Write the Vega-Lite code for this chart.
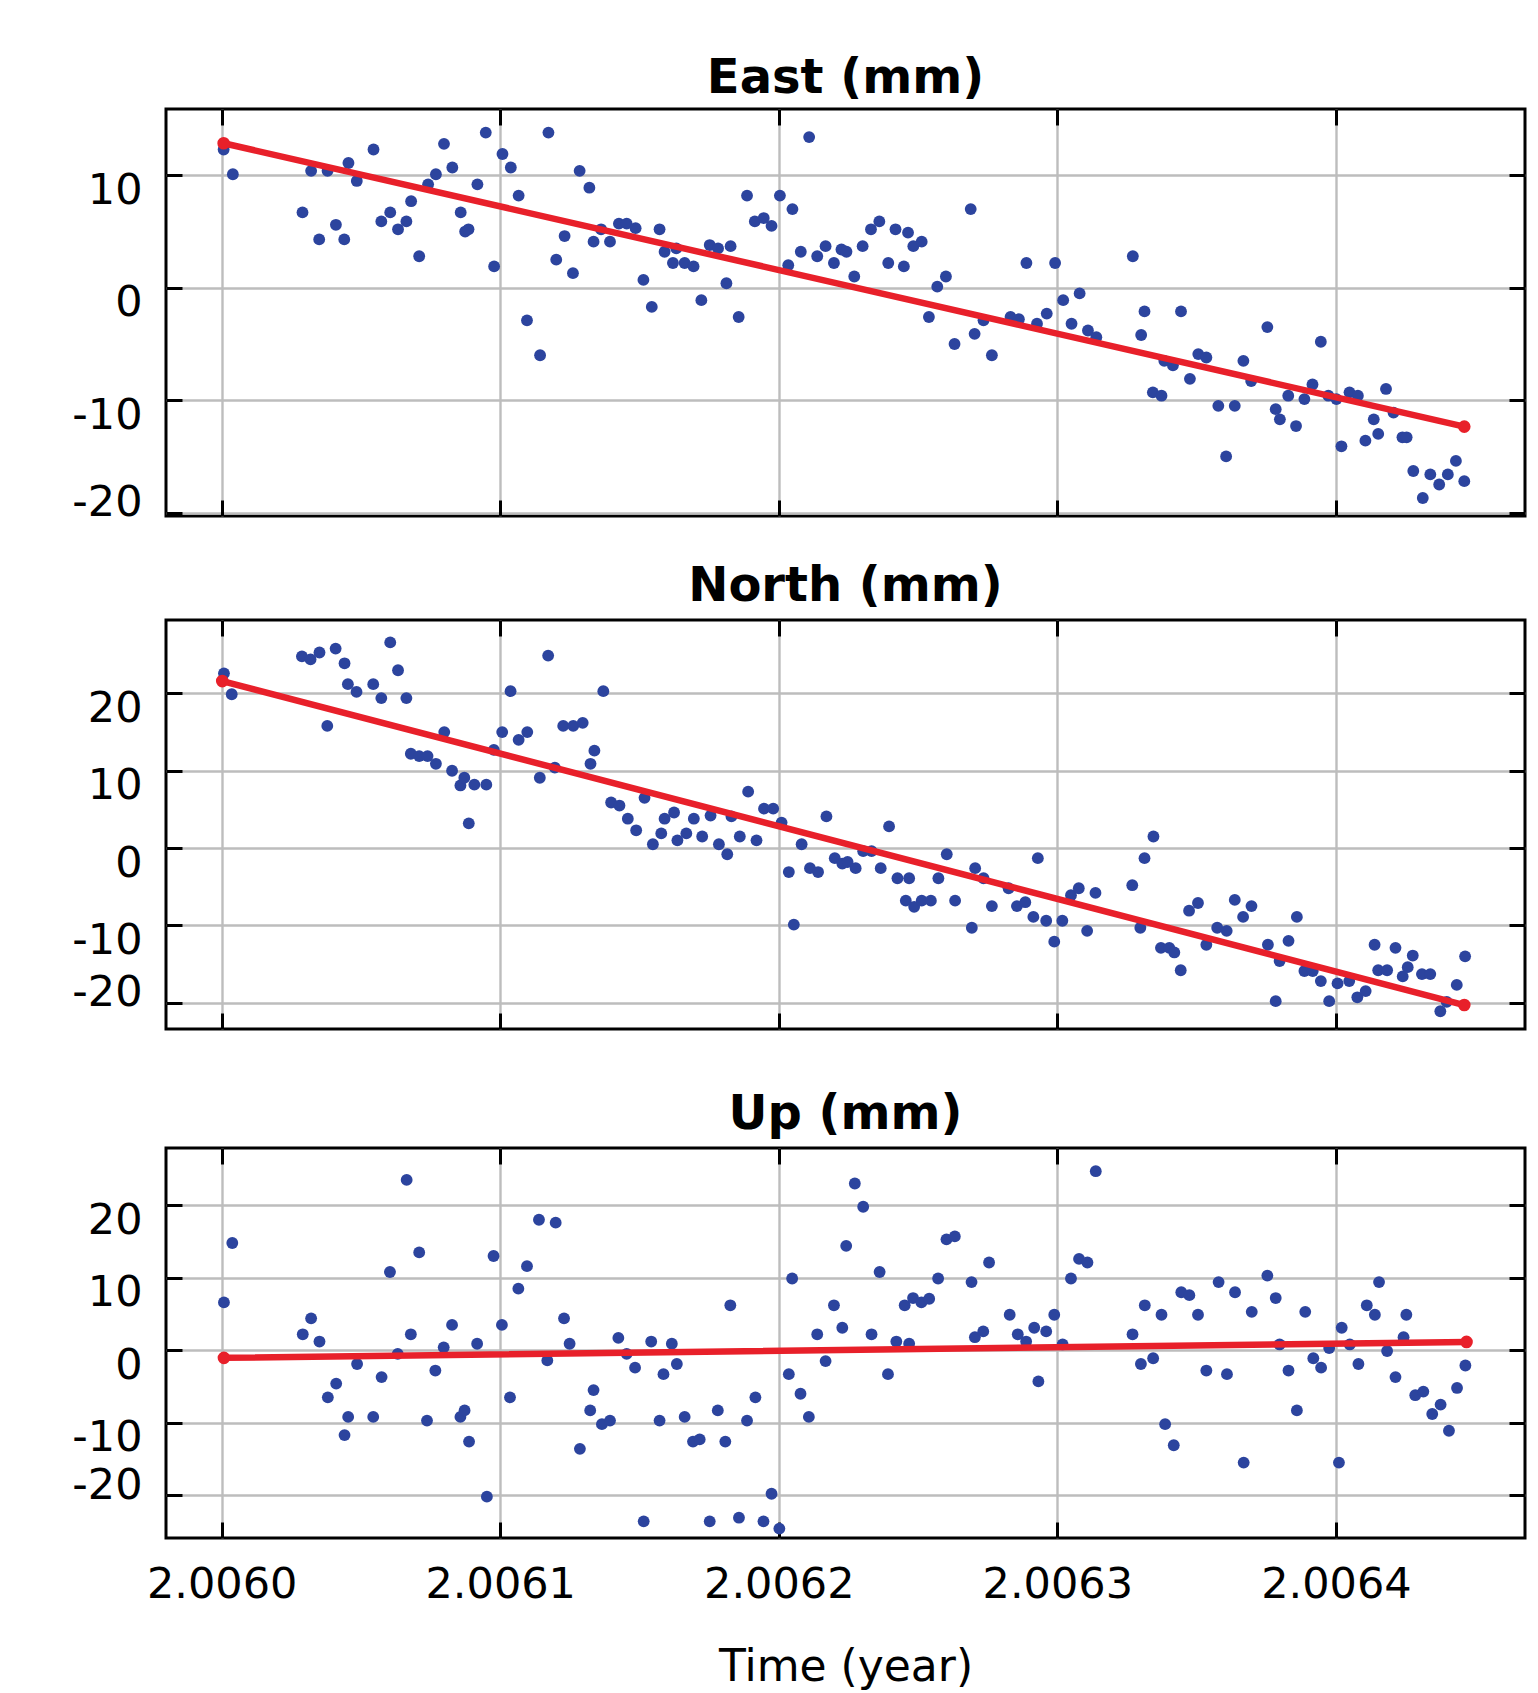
{
  "$schema": "https://vega.github.io/schema/vega-lite/v6.json",
  "background": "white",
  "padding": {"left": 70, "top": 53, "right": 6, "bottom": 4},
  "config": {
    "view": {"stroke": "black", "strokeWidth": 3},
    "font": "DejaVu Sans",
    "axis": {"labelFont": "DejaVu Sans", "labelFontSize": 43, "labelColor": "black", "gridColor": "#bdbdbd", "gridWidth": 2.4, "tickColor": "black", "tickWidth": 3, "tickSize": -16, "domain": false, "titleFont": "DejaVu Sans", "titleFontWeight": "normal", "titleFontSize": 44, "titleColor": "black"},
    "title": {"font": "DejaVu Sans", "fontSize": 48, "fontWeight": "bold", "color": "black", "offset": 8},
    "concat": {"spacing": 34}
  },
  "datasets": {
    "east": [
      {"t":2.0060007,"v":12.3},{"t":2.0060040,"v":10.1},{"t":2.0060290,"v":6.7},{"t":2.0060321,"v":10.4},{"t":2.0060350,"v":4.3},{"t":2.0060380,"v":10.4},{"t":2.0060410,"v":5.6},{"t":2.0060440,"v":4.3},{"t":2.0060455,"v":11.1},{"t":2.0060485,"v":9.5},{"t":2.0060545,"v":12.3},{"t":2.0060573,"v":5.9},{"t":2.0060605,"v":6.7},{"t":2.0060633,"v":5.2},{"t":2.0060663,"v":5.9},{"t":2.0060680,"v":7.7},{"t":2.0060709,"v":2.8},{"t":2.0060741,"v":9.2},{"t":2.0060769,"v":10.1},{"t":2.0060798,"v":12.8},{"t":2.0060828,"v":10.7},{"t":2.0060858,"v":6.7},{"t":2.0060874,"v":5.0},{"t":2.0060886,"v":5.2},{"t":2.0060918,"v":9.2},{"t":2.0060948,"v":13.8},{"t":2.0060978,"v":1.9},{"t":2.0061008,"v":11.9},{"t":2.0061038,"v":10.7},{"t":2.0061066,"v":8.2},{"t":2.0061096,"v":-2.9},{"t":2.0061143,"v":-6.0},{"t":2.0061173,"v":13.8},{"t":2.0061201,"v":2.5},{"t":2.0061231,"v":4.6},{"t":2.0061261,"v":1.3},{"t":2.0061285,"v":10.4},
      {"t":2.0061320,"v":8.9},{"t":2.0061335,"v":4.1},{"t":2.0061362,"v":5.2},{"t":2.0061394,"v":4.1},{"t":2.0061426,"v":5.7},{"t":2.0061454,"v":5.7},{"t":2.0061486,"v":5.3},{"t":2.0061514,"v":0.7},{"t":2.0061544,"v":-1.7},{"t":2.0061572,"v":5.2},{"t":2.0061590,"v":3.2},{"t":2.0061620,"v":2.2},{"t":2.0061632,"v":3.5},{"t":2.0061662,"v":2.2},{"t":2.0061694,"v":1.9},{"t":2.0061722,"v":-1.1},{"t":2.0061752,"v":3.8},{"t":2.0061782,"v":3.5},{"t":2.0061812,"v":0.4},{"t":2.0061827,"v":3.7},{"t":2.0061856,"v":-2.6},{"t":2.0061886,"v":8.2},{"t":2.0061914,"v":5.9},{"t":2.0061946,"v":6.2},{"t":2.0061974,"v":5.5},{"t":2.0062004,"v":8.2},{"t":2.0062034,"v":2.0},{"t":2.0062049,"v":7.0},{"t":2.0062079,"v":3.2},{"t":2.0062109,"v":13.4},{"t":2.0062138,"v":2.8},{"t":2.0062168,"v":3.7},{"t":2.0062198,"v":2.2},{"t":2.0062225,"v":3.4},{"t":2.0062243,"v":3.2},{"t":2.0062271,"v":1.0},{"t":2.0062301,"v":3.7},{"t":2.0062331,"v":5.2},{"t":2.0062361,"v":5.9},{"t":2.0062393,"v":2.2},{"t":2.0062419,"v":5.2},{"t":2.0062449,"v":1.9},{"t":2.0062464,"v":4.9},{"t":2.0062483,"v":3.7},{"t":2.0062513,"v":4.1},{"t":2.0062539,"v":-2.6},{"t":2.0062569,"v":0.1},{"t":2.0062600,"v":1.0},{"t":2.0062631,"v":-5.0},{"t":2.0062689,"v":7.0},{"t":2.0062703,"v":-4.1},{"t":2.0062735,"v":-2.9},{"t":2.0062765,"v":-6.0},
      {"t":2.0062832,"v":-2.6},{"t":2.0062862,"v":-2.8},{"t":2.0062889,"v":2.2},{"t":2.0062927,"v":-3.2},{"t":2.0062962,"v":-2.3},{"t":2.0062992,"v":2.2},{"t":2.0063021,"v":-1.1},{"t":2.0063051,"v":-3.2},{"t":2.0063080,"v":-0.5},{"t":2.0063110,"v":-3.8},{"t":2.0063140,"v":-4.4},{"t":2.0063271,"v":2.8},{"t":2.0063301,"v":-4.2},{"t":2.0063313,"v":-2.1},{"t":2.0063343,"v":-9.3},{"t":2.0063374,"v":-9.6},{"t":2.0063384,"v":-6.5},{"t":2.0063415,"v":-6.9},{"t":2.0063444,"v":-2.1},{"t":2.0063476,"v":-8.1},{"t":2.0063506,"v":-5.9},{"t":2.0063535,"v":-6.2},{"t":2.0063578,"v":-10.5},{"t":2.0063606,"v":-15.0},{"t":2.0063637,"v":-10.5},{"t":2.0063668,"v":-6.5},{"t":2.0063696,"v":-8.3},{"t":2.0063754,"v":-3.5},{"t":2.0063784,"v":-10.8},{"t":2.0063799,"v":-11.7},{"t":2.0063829,"v":-9.6},{"t":2.0063857,"v":-12.3},{"t":2.0063887,"v":-9.9},{"t":2.0063916,"v":-8.6},{"t":2.0063946,"v":-4.8},{"t":2.0063973,"v":-9.6},{"t":2.0064002,"v":-9.9},{"t":2.0064020,"v":-14.1},{"t":2.0064049,"v":-9.3},{"t":2.0064079,"v":-9.6},{"t":2.0064106,"v":-13.6},{"t":2.0064136,"v":-11.7},{"t":2.0064152,"v":-13.0},{"t":2.0064180,"v":-9.0},{"t":2.0064207,"v":-11.1},{"t":2.0064239,"v":-13.3},{"t":2.0064254,"v":-13.3},{"t":2.0064278,"v":-16.3},{"t":2.0064312,"v":-18.7},{"t":2.0064339,"v":-16.6},{"t":2.0064371,"v":-17.5},{"t":2.0064402,"v":-16.6},{"t":2.0064431,"v":-15.4},{"t":2.0064461,"v":-17.2}
    ],
    "east_fit": [{"t":2.0060007,"v":12.85},{"t":2.0064461,"v":-12.35}],
    "north": [
      {"t":2.0060008,"v":22.6},{"t":2.0060036,"v":19.9},{"t":2.0060288,"v":24.8},{"t":2.0060319,"v":24.4},{"t":2.0060351,"v":25.3},{"t":2.0060379,"v":15.8},{"t":2.0060409,"v":25.8},{"t":2.0060441,"v":23.9},{"t":2.0060453,"v":21.2},{"t":2.0060484,"v":20.2},{"t":2.0060544,"v":21.2},{"t":2.0060573,"v":19.4},{"t":2.0060605,"v":26.6},{"t":2.0060633,"v":23.0},{"t":2.0060663,"v":19.4},{"t":2.0060679,"v":12.2},{"t":2.0060709,"v":11.9},{"t":2.0060739,"v":11.9},{"t":2.0060769,"v":10.9},{"t":2.0060799,"v":15.0},{"t":2.0060827,"v":10.0},{"t":2.0060857,"v":8.1},{"t":2.0060871,"v":9.1},{"t":2.0060887,"v":3.2},{"t":2.0060907,"v":8.2},{"t":2.0060950,"v":8.2},{"t":2.0060977,"v":12.7},{"t":2.0061007,"v":15.0},{"t":2.0061037,"v":20.3},{"t":2.0061066,"v":14.0},{"t":2.0061097,"v":15.0},{"t":2.0061142,"v":9.1},{"t":2.0061172,"v":24.9},{"t":2.0061196,"v":10.4},{"t":2.0061226,"v":15.8},{"t":2.0061262,"v":15.8},{"t":2.0061296,"v":16.2},{"t":2.0061324,"v":10.9},{"t":2.0061338,"v":12.6},{"t":2.0061370,"v":20.3},{"t":2.0061398,"v":5.9},{"t":2.0061428,"v":5.5},{"t":2.0061458,"v":3.8},{"t":2.0061488,"v":2.3},{"t":2.0061518,"v":6.5},{"t":2.0061548,"v":0.5},{"t":2.0061578,"v":1.9},{"t":2.0061590,"v":3.8},{"t":2.0061624,"v":4.6},{"t":2.0061636,"v":1.0},{"t":2.0061668,"v":1.9},{"t":2.0061695,"v":3.8},{"t":2.0061725,"v":1.5},{"t":2.0061755,"v":4.2},{"t":2.0061785,"v":0.5},{"t":2.0061815,"v":-0.8},{"t":2.0061830,"v":4.1},{"t":2.0061860,"v":1.5},{"t":2.0061890,"v":7.3},{"t":2.0061920,"v":1.0},{"t":2.0061947,"v":5.1},{"t":2.0061980,"v":5.1},{"t":2.0062010,"v":3.3},{"t":2.0062036,"v":-3.1},{"t":2.0062054,"v":-9.9},{"t":2.0062082,"v":0.5},{"t":2.0062112,"v":-2.6},{"t":2.0062141,"v":-3.1},{"t":2.0062171,"v":4.1},{"t":2.0062201,"v":-1.3},{"t":2.0062228,"v":-2.0},{"t":2.0062247,"v":-1.8},{"t":2.0062276,"v":-2.6},{"t":2.0062303,"v":-0.4},{"t":2.0062333,"v":-0.4},{"t":2.0062366,"v":-2.6},{"t":2.0062396,"v":2.8},{"t":2.0062426,"v":-3.9},{"t":2.0062456,"v":-6.8},{"t":2.0062468,"v":-3.9},{"t":2.0062486,"v":-7.6},{"t":2.0062513,"v":-6.8},{"t":2.0062546,"v":-6.8},{"t":2.0062573,"v":-3.9},{"t":2.0062603,"v":-0.8},{"t":2.0062633,"v":-6.8},{"t":2.0062693,"v":-10.3},{"t":2.0062705,"v":-2.6},{"t":2.0062735,"v":-3.9},{"t":2.0062765,"v":-7.5},{"t":2.0062825,"v":-5.2},{"t":2.0062855,"v":-7.5},{"t":2.0062885,"v":-7.0},{"t":2.0062914,"v":-8.9},{"t":2.0062930,"v":-1.3},{"t":2.0062960,"v":-9.4},{"t":2.0062989,"v":-12.1},{"t":2.0063018,"v":-9.4},{"t":2.0063049,"v":-6.1},{"t":2.0063077,"v":-5.2},{"t":2.0063107,"v":-10.7},{"t":2.0063137,"v":-5.8},{"t":2.0063269,"v":-4.8},{"t":2.0063298,"v":-10.3},{"t":2.0063313,"v":-1.3},{"t":2.0063345,"v":1.5},{"t":2.0063372,"v":-12.9},{"t":2.0063402,"v":-12.9},{"t":2.0063420,"v":-13.5},{"t":2.0063443,"v":-15.8},{"t":2.0063473,"v":-8.1},{"t":2.0063505,"v":-7.1},{"t":2.0063535,"v":-12.5},{"t":2.0063574,"v":-10.3},{"t":2.0063608,"v":-10.7},{"t":2.0063637,"v":-6.7},{"t":2.0063667,"v":-8.9},{"t":2.0063697,"v":-7.5},{"t":2.0063756,"v":-12.5},{"t":2.0063784,"v":-19.8},{"t":2.0063798,"v":-14.6},{"t":2.0063830,"v":-12.0},{"t":2.0063860,"v":-8.9},{"t":2.0063887,"v":-15.9},{"t":2.0063917,"v":-15.9},{"t":2.0063946,"v":-17.2},{"t":2.0063976,"v":-19.8},{"t":2.0064006,"v":-17.5},{"t":2.0064048,"v":-17.2},{"t":2.0064077,"v":-19.3},{"t":2.0064107,"v":-18.5},{"t":2.0064139,"v":-12.5},{"t":2.0064152,"v":-15.8},{"t":2.0064184,"v":-15.8},{"t":2.0064214,"v":-12.9},{"t":2.0064240,"v":-16.6},{"t":2.0064258,"v":-15.4},{"t":2.0064276,"v":-13.9},{"t":2.0064309,"v":-16.3},{"t":2.0064339,"v":-16.3},{"t":2.0064375,"v":-21.1},{"t":2.0064398,"v":-19.9},{"t":2.0064434,"v":-17.7},{"t":2.0064464,"v":-14.0}
    ],
    "north_fit": [{"t":2.0060002,"v":21.6},{"t":2.0064461,"v":-20.3}],
    "up": [
      {"t":2.0060008,"v":6.6},{"t":2.0060038,"v":14.8},{"t":2.0060291,"v":2.2},{"t":2.0060321,"v":4.4},{"t":2.0060351,"v":1.2},{"t":2.0060381,"v":-6.5},{"t":2.0060411,"v":-4.6},{"t":2.0060441,"v":-11.7},{"t":2.0060454,"v":-9.2},{"t":2.0060486,"v":-1.9},{"t":2.0060544,"v":-9.2},{"t":2.0060574,"v":-3.7},{"t":2.0060604,"v":10.8},{"t":2.0060632,"v":-0.5},{"t":2.0060664,"v":23.5},{"t":2.0060679,"v":2.2},{"t":2.0060709,"v":13.5},{"t":2.0060737,"v":-9.7},{"t":2.0060767,"v":-2.8},{"t":2.0060797,"v":0.4},{"t":2.0060827,"v":3.5},{"t":2.0060857,"v":-9.2},{"t":2.0060872,"v":-8.3},{"t":2.0060888,"v":-12.6},{"t":2.0060917,"v":0.9},{"t":2.0060952,"v":-20.2},{"t":2.0060976,"v":13.0},{"t":2.0061006,"v":3.5},{"t":2.0061035,"v":-6.5},{"t":2.0061065,"v":8.5},{"t":2.0061096,"v":11.6},{"t":2.0061139,"v":18.0},{"t":2.0061169,"v":-1.4},{"t":2.0061199,"v":17.6},{"t":2.0061229,"v":4.4},{"t":2.0061249,"v":0.9},{"t":2.0061286,"v":-13.6},{"t":2.0061323,"v":-8.3},{"t":2.0061335,"v":-5.5},{"t":2.0061365,"v":-10.2},{"t":2.0061394,"v":-9.7},{"t":2.0061424,"v":1.7},{"t":2.0061454,"v":-0.5},{"t":2.0061484,"v":-2.4},{"t":2.0061515,"v":-23.6},{"t":2.0061542,"v":1.2},{"t":2.0061572,"v":-9.7},{"t":2.0061586,"v":-3.3},{"t":2.0061616,"v":0.9},{"t":2.0061634,"v":-1.9},{"t":2.0061662,"v":-9.2},{"t":2.0061692,"v":-12.6},{"t":2.0061716,"v":-12.3},{"t":2.0061752,"v":-23.6},{"t":2.0061781,"v":-8.3},{"t":2.0061808,"v":-12.6},{"t":2.0061826,"v":6.2},{"t":2.0061857,"v":-23.1},{"t":2.0061886,"v":-9.7},{"t":2.0061916,"v":-6.5},{"t":2.0061945,"v":-23.6},{"t":2.0061974,"v":-19.8},{"t":2.0062002,"v":-24.6},{"t":2.0062036,"v":-3.3},{"t":2.0062048,"v":9.9},{"t":2.0062078,"v":-6.0},{"t":2.0062108,"v":-9.2},{"t":2.0062138,"v":2.2},{"t":2.0062168,"v":-1.5},{"t":2.0062198,"v":6.2},{"t":2.0062228,"v":3.1},{"t":2.0062242,"v":14.4},{"t":2.0062273,"v":23.0},{"t":2.0062303,"v":19.8},{"t":2.0062333,"v":2.2},{"t":2.0062362,"v":10.8},{"t":2.0062392,"v":-3.3},{"t":2.0062422,"v":1.2},{"t":2.0062452,"v":6.2},{"t":2.0062468,"v":0.9},{"t":2.0062482,"v":7.2},{"t":2.0062512,"v":6.6},{"t":2.0062540,"v":7.1},{"t":2.0062572,"v":9.9},{"t":2.0062602,"v":15.3},{"t":2.0062632,"v":15.7},{"t":2.0062692,"v":9.4},{"t":2.0062704,"v":1.8},{"t":2.0062734,"v":2.6},{"t":2.0062755,"v":12.1},{"t":2.0062829,"v":4.9},{"t":2.0062858,"v":2.2},{"t":2.0062888,"v":1.2},{"t":2.0062917,"v":3.1},{"t":2.0062932,"v":-4.3},{"t":2.0062960,"v":2.6},{"t":2.0062989,"v":4.9},{"t":2.0063019,"v":0.8},{"t":2.0063049,"v":9.9},{"t":2.0063078,"v":12.6},{"t":2.0063108,"v":12.1},{"t":2.0063138,"v":24.7},{"t":2.0063270,"v":2.2},{"t":2.0063300,"v":-1.9},{"t":2.0063314,"v":6.2},{"t":2.0063344,"v":-1.1},{"t":2.0063374,"v":4.9},{"t":2.0063387,"v":-10.2},{"t":2.0063418,"v":-13.1},{"t":2.0063445,"v":8.0},{"t":2.0063474,"v":7.6},{"t":2.0063505,"v":4.9},{"t":2.0063535,"v":-2.8},{"t":2.0063579,"v":9.4},{"t":2.0063609,"v":-3.3},{"t":2.0063638,"v":8.0},{"t":2.0063669,"v":-15.5},{"t":2.0063698,"v":5.3},{"t":2.0063754,"v":10.3},{"t":2.0063784,"v":7.2},{"t":2.0063798,"v":0.8},{"t":2.0063830,"v":-2.8},{"t":2.0063860,"v":-8.3},{"t":2.0063890,"v":5.3},{"t":2.0063919,"v":-1.1},{"t":2.0063947,"v":-2.4},{"t":2.0063976,"v":0.3},{"t":2.0064011,"v":-15.5},{"t":2.0064021,"v":3.1},{"t":2.0064050,"v":0.8},{"t":2.0064081,"v":-1.9},{"t":2.0064111,"v":6.2},{"t":2.0064140,"v":4.9},{"t":2.0064155,"v":9.4},{"t":2.0064184,"v":-0.1},{"t":2.0064214,"v":-3.7},{"t":2.0064243,"v":1.8},{"t":2.0064253,"v":4.9},{"t":2.0064285,"v":-6.2},{"t":2.0064314,"v":-5.7},{"t":2.0064346,"v":-8.8},{"t":2.0064376,"v":-7.5},{"t":2.0064406,"v":-11.1},{"t":2.0064435,"v":-5.2},{"t":2.0064465,"v":-2.1}
    ],
    "up_fit": [{"t":2.0060008,"v":-1.05},{"t":2.0064469,"v":1.15}]
  },
  "vconcat": [
    {
      "title": {"text": "East (mm)", "offset": 5},
      "width": 1359, "height": 407,
      "resolve": {"axis": {"x": "independent", "y": "independent"}},
      "layer": [
        {
          "data": {"name": "east"},
          "mark": {"type": "circle", "size": 140, "color": "#2c449e", "opacity": 1},
          "encoding": {
            "x": {"field": "t", "type": "quantitative", "scale": {"domain": [2.00598, 2.0064679], "nice": false, "zero": false}, "axis": {"orient": "bottom", "values": [2.006, 2.0061, 2.0062, 2.0063, 2.0064], "labels": false, "title": null, "grid": true}},
            "y": {"field": "v", "type": "quantitative", "scale": {"domain": [-20.3, 15.9], "nice": false, "zero": false}, "axis": {"orient": "left", "values": [10, 0, -10, -20], "title": null, "grid": true, "labelPadding": 40, "labelExpr": "replace(datum.label, '\u2212', '-')", "labelOffset": {"condition": {"test": "datum.value === -20", "value": -10}, "value": 15}}}
          }
        },
        {
          "data": {"name": "east_fit"},
          "mark": {"type": "line", "color": "#e8202a", "strokeWidth": 6.5, "strokeCap": "round"},
          "encoding": {
            "x": {"field": "t", "type": "quantitative", "axis": {"orient": "top", "values": [2.006, 2.0061, 2.0062, 2.0063, 2.0064], "labels": false, "title": null, "grid": false}},
            "y": {"field": "v", "type": "quantitative", "axis": {"orient": "right", "values": [10, 0, -10, -20], "labels": false, "title": null, "grid": false}}
          }
        },
        {
          "data": {"name": "east_fit"},
          "mark": {"type": "circle", "size": 160, "color": "#e8202a", "opacity": 1},
          "encoding": {
            "x": {"field": "t", "type": "quantitative", "axis": null},
            "y": {"field": "v", "type": "quantitative", "axis": null}
          }
        }
      ]
    },
    {
      "title": "North (mm)",
      "width": 1359, "height": 409,
      "resolve": {"axis": {"x": "independent", "y": "independent"}},
      "layer": [
        {
          "data": {"name": "north"},
          "mark": {"type": "circle", "size": 140, "color": "#2c449e", "opacity": 1},
          "encoding": {
            "x": {"field": "t", "type": "quantitative", "scale": {"domain": [2.00598, 2.0064679], "nice": false, "zero": false}, "axis": {"orient": "bottom", "values": [2.006, 2.0061, 2.0062, 2.0063, 2.0064], "labels": false, "title": " ", "titleFontSize": 10, "titlePadding": 12.5, "grid": true}},
            "y": {"field": "v", "type": "quantitative", "scale": {"domain": [-23.4, 29.5], "nice": false, "zero": false}, "axis": {"orient": "left", "values": [20, 10, 0, -10, -20], "title": null, "grid": true, "labelPadding": 40, "labelExpr": "replace(datum.label, '\u2212', '-')", "labelOffset": {"condition": {"test": "datum.value === -20", "value": -10}, "value": 15}}}
          }
        },
        {
          "data": {"name": "north_fit"},
          "mark": {"type": "line", "color": "#e8202a", "strokeWidth": 6.5, "strokeCap": "round"},
          "encoding": {
            "x": {"field": "t", "type": "quantitative", "axis": {"orient": "top", "values": [2.006, 2.0061, 2.0062, 2.0063, 2.0064], "labels": false, "title": null, "grid": false}},
            "y": {"field": "v", "type": "quantitative", "axis": {"orient": "right", "values": [20, 10, 0, -10, -20], "labels": false, "title": null, "grid": false}}
          }
        },
        {
          "data": {"name": "north_fit"},
          "mark": {"type": "circle", "size": 160, "color": "#e8202a", "opacity": 1},
          "encoding": {
            "x": {"field": "t", "type": "quantitative", "axis": null},
            "y": {"field": "v", "type": "quantitative", "axis": null}
          }
        }
      ]
    },
    {
      "title": "Up (mm)",
      "width": 1359, "height": 390,
      "resolve": {"axis": {"x": "independent", "y": "independent"}},
      "layer": [
        {
          "data": {"name": "up"},
          "mark": {"type": "circle", "size": 140, "color": "#2c449e", "opacity": 1},
          "encoding": {
            "x": {"field": "t", "type": "quantitative", "scale": {"domain": [2.00598, 2.0064679], "nice": false, "zero": false}, "axis": {"orient": "bottom", "values": [2.006, 2.0061, 2.0062, 2.0063, 2.0064], "format": ".4f", "labelPadding": 41, "title": "Time (year)", "titlePadding": 39, "grid": true}},
            "y": {"field": "v", "type": "quantitative", "scale": {"domain": [-25.9, 27.9], "nice": false, "zero": false}, "axis": {"orient": "left", "values": [20, 10, 0, -10, -20], "title": null, "grid": true, "labelPadding": 40, "labelExpr": "replace(datum.label, '\u2212', '-')", "labelOffset": {"condition": {"test": "datum.value === -20", "value": -10}, "value": 15}}}
          }
        },
        {
          "data": {"name": "up_fit"},
          "mark": {"type": "line", "color": "#e8202a", "strokeWidth": 6.5, "strokeCap": "round"},
          "encoding": {
            "x": {"field": "t", "type": "quantitative", "axis": {"orient": "top", "values": [2.006, 2.0061, 2.0062, 2.0063, 2.0064], "labels": false, "title": null, "grid": false}},
            "y": {"field": "v", "type": "quantitative", "axis": {"orient": "right", "values": [20, 10, 0, -10, -20], "labels": false, "title": null, "grid": false}}
          }
        },
        {
          "data": {"name": "up_fit"},
          "mark": {"type": "circle", "size": 160, "color": "#e8202a", "opacity": 1},
          "encoding": {
            "x": {"field": "t", "type": "quantitative", "axis": null},
            "y": {"field": "v", "type": "quantitative", "axis": null}
          }
        }
      ]
    }
  ]
}
